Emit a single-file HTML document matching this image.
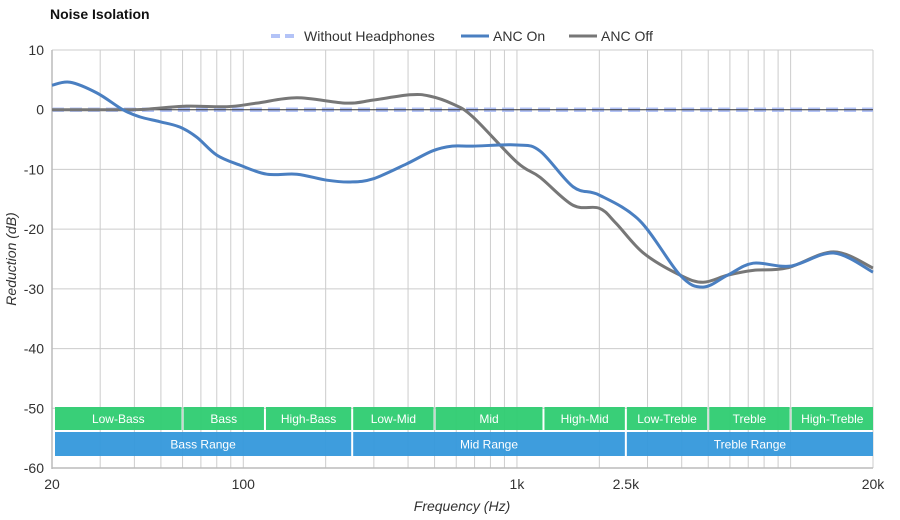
<!DOCTYPE html>
<html><head><meta charset="utf-8"><style>
body{margin:0;background:#fff;font-family:"Liberation Sans",sans-serif;}
svg{display:block}
</style></head><body>
<svg id="chart" width="900" height="520" viewBox="0 0 900 520">
<text x="50" y="19" font-size="14" font-weight="bold" fill="#111">Noise Isolation</text>
<g id="legend">
 <g><line x1="271" y1="36" x2="299" y2="36" stroke="#b3c3f7" stroke-width="4" stroke-dasharray="9,5"/><text x="304" y="41" font-size="14" fill="#333">Without Headphones</text></g>
 <g><line x1="461" y1="36" x2="489" y2="36" stroke="#4a7fc1" stroke-width="3"/><text x="493" y="41" font-size="14" fill="#333">ANC On</text></g>
 <g><line x1="569" y1="36" x2="597" y2="36" stroke="#777" stroke-width="3"/><text x="601" y="41" font-size="14" fill="#333">ANC Off</text></g>
</g>
<g id="grid"></g>
<g id="bands"></g>
<g id="base"></g>
<g id="axes"></g>
<g id="series"></g>
<text x="16" y="259" font-size="14" font-style="italic" fill="#333" text-anchor="middle" transform="rotate(-90 16 259)">Reduction (dB)</text>
<text x="462" y="511" font-size="14" font-style="italic" fill="#333" text-anchor="middle">Frequency (Hz)</text>
</svg>
<script>
const yTicks=[10,0,-10,-20,-30,-40,-50,-60];
const xTickLabels=["20","100","1k","2.5k","20k"];
const xTickValues=[20,100,1000,2500,20000];
const gridFreqs=[20,30,40,50,60,70,80,90,100,200,300,400,500,600,700,800,900,1000,2000,3000,4000,5000,6000,7000,8000,9000,10000,20000];
const ancOnFreq=[20,23.3,29.2,36.3,41.9,49.5,58.6,67.6,80,97.4,122,157,202,246,297,394,491,580,690,1000,1213,1603,2000,2813,3945,4786,5890,7300,9960,14360,20000];
const ancOnVal=[4.1,4.6,2.8,0,-1.2,-2,-2.9,-4.6,-7.6,-9.3,-10.8,-10.8,-11.8,-12.1,-11.6,-9.1,-6.9,-6.1,-6.1,-5.9,-6.9,-12.9,-14.3,-18.6,-27.7,-29.7,-27.7,-25.7,-26.2,-24,-27.2];
const ancOffFreq=[20,28,39,45,62,87,112,157,238,297,406,478,580,690,1000,1213,1603,2000,2300,2900,3945,4786,5890,7300,9700,14360,20000];
const ancOffVal=[0,0,0,0.1,0.6,0.5,1.1,2,1.1,1.6,2.5,2.3,1,-1.2,-8.8,-11.3,-16,-16.5,-19,-24,-27.7,-28.9,-27.7,-26.9,-26.5,-23.8,-26.5];
const baseFreq=[20,20000];
const baseVal=[0,0];
const bandNames=["Low-Bass","Bass","High-Bass","Low-Mid","Mid","High-Mid","Low-Treble","Treble","High-Treble"];
const bandEdges=[20,60,120,250,500,1250,2500,5000,10000,20000];
const rangeNames=["Bass Range","Mid Range","Treble Range"];
const rangeEdges=[20,250,2500,20000];

const X0=52,X1=873,Y0=50,Y1=468;
const fx=f=>X0+(Math.log10(f/20)/3)*(X1-X0);
const fy=v=>Y0+(10-v)/70*(Y1-Y0);
const NS="http://www.w3.org/2000/svg";
function mk(t,a,p){const e=document.createElementNS(NS,t);for(const k in a)e.setAttribute(k,a[k]);p.appendChild(e);return e;}
const grid=document.getElementById('grid'),axes=document.getElementById('axes'),bands=document.getElementById('bands'),series=document.getElementById('series'),base=document.getElementById('base');
gridFreqs.forEach(f=>{const l=mk('line',{x1:fx(f),x2:fx(f),y1:Y0,y2:Y1,stroke:'#cccccc','stroke-width':1},grid);

});
yTicks.forEach(v=>{const l=mk('line',{x1:X0,x2:X1,y1:fy(v),y2:fy(v),stroke:v===0?'#333':'#cccccc','stroke-width':1},v===0?axes:grid);


const t=mk('text',{x:44,y:fy(v)+5,'font-size':14,fill:'#333','text-anchor':'end'},axes);t.textContent=v;

});
const la=mk('line',{x1:X0,x2:X0,y1:Y0,y2:Y1+1,stroke:'#bbb','stroke-width':1.5},axes);


const lb=mk('line',{x1:X0,x2:X1,y1:Y1,y2:Y1,stroke:'#bbb','stroke-width':1.5},axes);


xTickValues.forEach((f,i)=>{const t=mk('text',{x:fx(f),y:489,'font-size':14,fill:'#333','text-anchor':'middle'},axes);t.textContent=xTickLabels[i];

});
function band(a,b,name,y,h,col){const x=Math.max(fx(a),X0+2)+1,w=fx(b)-x-(b>=20000?0:1);
const g=mk('g',{},bands);


mk('rect',{x:x,y:y,width:w,height:h,fill:col,'fill-opacity':0.95},g);
const t=mk('text',{x:x+w/2,y:y+h/2+4.5,'font-size':12,fill:'#fff','text-anchor':'middle'},g);t.textContent=name;}
bandNames.forEach((n,i)=>band(bandEdges[i],bandEdges[i+1],n,407,23,'#2ecc71'));
rangeNames.forEach((n,i)=>band(rangeEdges[i],rangeEdges[i+1],n,432,24,'#3498db'));
function path(fs,vs){const p=fs.map((f,i)=>[fx(f),fy(vs[i])]);let d='M'+p[0][0]+','+p[0][1];
for(let i=0;i<p.length-1;i++){const a=p[Math.max(0,i-1)],b=p[i],c=p[i+1],e=p[Math.min(p.length-1,i+2)];
const c1=[b[0]+(c[0]-a[0])/6,b[1]+(c[1]-a[1])/6],c2=[c[0]-(e[0]-b[0])/6,c[1]-(e[1]-b[1])/6];
d+=` C${c1[0]},${c1[1]} ${c2[0]},${c2[1]} ${c[0]},${c[1]}`;}return d;}
const s0=mk('path',{d:path(baseFreq,baseVal),fill:'none',stroke:'#b3c3f7','stroke-width':4.5,'stroke-dasharray':'12,6'},base);


const s2=mk('path',{d:path(ancOffFreq,ancOffVal),fill:'none',stroke:'#777','stroke-width':3},series);


const s1=mk('path',{d:path(ancOnFreq,ancOnVal),fill:'none',stroke:'#4a7fc1','stroke-width':3},series);


</script>
</body></html>
